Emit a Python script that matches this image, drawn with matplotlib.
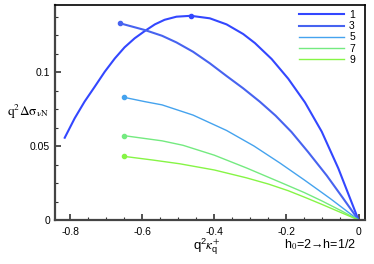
import numpy as np
import matplotlib.pyplot as plt
from matplotlib.ticker import MultipleLocator, FuncFormatter

plt.rcParams['font.family'] = ['Liberation Sans', 'DejaVu Sans']
plt.rcParams['mathtext.fontset'] = 'stix'

# q^2 kappa_q^+ (x) and q^2 delta sigma (y)
x1 = [-0.815, -0.7875, -0.76, -0.732, -0.704, -0.676, -0.649, -0.621, -0.593, -0.565,
      -0.538, -0.505, -0.465, -0.4125, -0.366, -0.32, -0.2875, -0.241, -0.195, -0.1486,
      -0.102, -0.056, 0.0]
y1 = [0.0556, 0.0687, 0.080, 0.090, 0.1002, 0.1092, 0.1167, 0.1228, 0.1277, 0.1322,
      0.1353, 0.1374, 0.138, 0.1363, 0.1322, 0.1257, 0.1196, 0.1088, 0.0955, 0.0795,
      0.0597, 0.0349, 0.0]
x3 = [-0.661, -0.593, -0.545, -0.505, -0.459, -0.4125, -0.366, -0.32, -0.274, -0.23,
      -0.186, -0.14, -0.088, -0.044, 0.0]
y3 = [0.1329, 0.1284, 0.1245, 0.120, 0.1137, 0.1059, 0.0973, 0.089, 0.080, 0.0705,
      0.0595, 0.046, 0.030, 0.0151, 0.0]
x5 = [-0.6505, -0.593, -0.545, -0.459, -0.366, -0.29, -0.218, -0.15, -0.079, 0.0]
y5 = [0.0829, 0.080, 0.0778, 0.0709, 0.0605, 0.050, 0.0385, 0.027, 0.0146, 0.0]
x7 = [-0.6505, -0.545, -0.487, -0.4, -0.311, -0.22, -0.15, -0.1, -0.05, 0.0]
y7 = [0.057, 0.0535, 0.0505, 0.0438, 0.0352, 0.0258, 0.0185, 0.0127, 0.0065, 0.0]
x9 = [-0.6505, -0.57, -0.496, -0.4, -0.311, -0.25, -0.195, -0.1486, -0.102, -0.056, 0.0]
y9 = [0.043, 0.0405, 0.038, 0.0338, 0.0285, 0.0243, 0.0198, 0.0153, 0.0106, 0.0058, 0.0]

labels = ['1', '3', '5', '7', '9']
colors = ['#3347ff', '#4763f0', '#45a3ee', '#74ea80', '#86f545']
# index of the marked point on each curve
dots = [12, 0, 0, 0, 0]

fig = plt.figure(figsize=(3.74, 2.64), dpi=100)
ax = fig.add_axes([55 / 374, 44 / 264, 310 / 374, 215 / 264])

series = [(x1, y1), (x3, y3), (x5, y5), (x7, y7), (x9, y9)]
for (xs, ys), lab, c, d in zip(series, labels, colors, dots):
    lw = 1.5 if lab in ('1', '3') else 1.0
    ax.plot(xs, ys, color=c, lw=lw, label=lab, solid_joinstyle='round')
    ax.plot(xs[d], ys[d], 'o', color=c, ms=3)

ax.set_xlim(-0.842, 0.018)
ax.set_ylim(0, 0.1453)
ax.xaxis.set_major_locator(MultipleLocator(0.2))
ax.xaxis.set_minor_locator(MultipleLocator(0.05))
ax.yaxis.set_major_locator(MultipleLocator(0.05))
ax.yaxis.set_minor_locator(MultipleLocator(0.0125))
ax.xaxis.set_major_formatter(FuncFormatter(lambda v, p: '0' if abs(v) < 1e-9 else f'{v:.1f}'))
ax.yaxis.set_major_formatter(FuncFormatter(lambda v, p: '0' if abs(v) < 1e-9 else f'{v:g}'))
ax.tick_params(which='both', direction='in', labelsize=7.5, top=False, right=False, color='#333333')
ax.tick_params(which='major', length=4, width=1.2)
ax.tick_params(which='minor', length=2.5, width=0.8)
ax.tick_params(axis='x', pad=5)

for s in ['top', 'right']:
    ax.spines[s].set_linewidth(1.2)
    ax.spines[s].set_color('black')
for s in ['left', 'bottom']:
    ax.spines[s].set_linewidth(1.6)
    ax.spines[s].set_color('#444444')

ax.legend(frameon=False, fontsize=7.5, handlelength=4.3, handletextpad=0.5,
          labelspacing=0.12, borderpad=0, borderaxespad=0, loc='upper right',
          bbox_to_anchor=(355 / 374, 1 - 10 / 264), bbox_transform=fig.transFigure)

fig.text(28 / 374, 1 - 112 / 264, r'$\mathrm{q^2\Delta\sigma_{\nu N}}$', fontsize=9.5,
         ha='center', va='center')
fig.text(207 / 374, 1 - 247 / 264, r'$\mathregular{q^2}\kappa^{+}_{\mathregular{q}}$',
         fontsize=9.5, ha='center', va='center')
fig.text(320 / 374, 1 - 245 / 264, 'h$_0$=2→h=1/2', fontsize=9,
         ha='center', va='center')

fig.savefig('out.png', dpi=100)
